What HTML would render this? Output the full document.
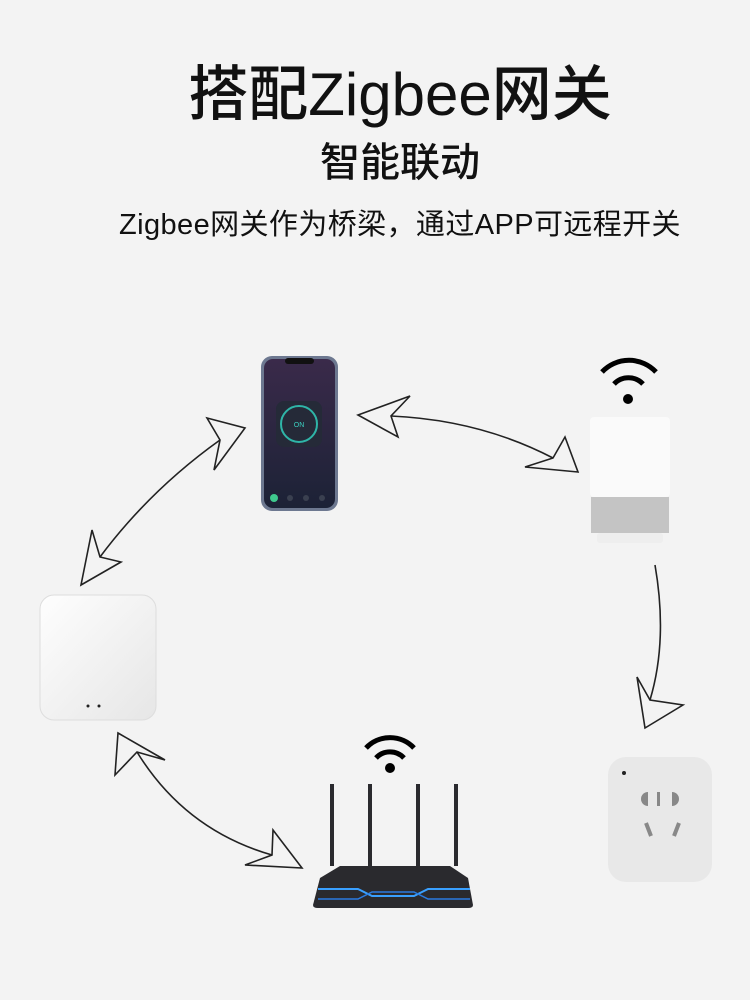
<!DOCTYPE html>
<html><head><meta charset="utf-8"><style>
body{margin:0;background:#f3f3f3;}
.wrap{position:relative;width:750px;height:1000px;overflow:hidden;background:#f3f3f3;font-family:"Liberation Sans","Noto Sans CJK SC",sans-serif;}
.t1{position:absolute;left:0;width:800px;top:46px;text-align:center;font-size:60px;font-weight:500;color:#111;letter-spacing:0px;}
.t2{position:absolute;left:0;width:800px;top:130px;text-align:center;font-size:40px;font-weight:500;color:#111;}
.t3{position:absolute;left:0;width:800px;top:201px;text-align:center;font-size:29px;color:#111;letter-spacing:0.4px;}
</style></head><body><div class="wrap">
<div class="t1">搭配Zigbee网关</div>
<div class="t2">智能联动</div>
<div class="t3">Zigbee网关作为桥梁，通过APP可远程开关</div>
<svg width="750" height="1000" style="position:absolute;left:0;top:0">
<defs>
<linearGradient id="scr" x1="0" y1="0" x2="0" y2="1"><stop offset="0" stop-color="#3a2a4a"/><stop offset="1" stop-color="#1c2236"/></linearGradient>
<linearGradient id="gw" x1="0" y1="0" x2="1" y2="1"><stop offset="0" stop-color="#fefefe"/><stop offset="1" stop-color="#e6e6e6"/></linearGradient>
</defs>
<g fill="none" stroke="#222" stroke-width="1.6" stroke-linejoin="miter">
<path d="M391 416 Q480 420 553 458"/>
<polygon points="358,415 410,396 391,416 398,437"/>
<polygon points="565,437 578,472 525,467 553,458"/>
<path d="M220 440 Q150 490 100 557"/>
<polygon points="207,418 245,428 214,470 220,440"/>
<polygon points="92,530 100,557 121,562 81,585"/>
<path d="M655 565 Q668 640 650 700"/>
<polygon points="637,677 650,700 683,705 645,728"/>
<path d="M137 752 Q185 830 272 855"/>
<polygon points="118,733 165,760 137,752 115,775"/>
<polygon points="273,830 302,868 245,865 272,855"/>
</g>
<!-- phone -->
<rect x="261" y="356" width="77" height="155" rx="11" fill="#6d7890"/>
<rect x="264" y="359" width="71" height="149" rx="9" fill="url(#scr)"/>
<rect x="285" y="358" width="29" height="6" rx="3" fill="#111"/>
<rect x="276" y="401" width="46" height="46" rx="8" fill="#252a38"/>
<circle cx="299" cy="424" r="18" fill="none" stroke="#2fb5a8" stroke-width="2"/>
<text x="299" y="427" font-size="7" fill="#3cd0c0" text-anchor="middle" font-family="Liberation Sans">ON</text>
<circle cx="274" cy="498" r="4" fill="#3fc98e"/>
<circle cx="290" cy="498" r="3" fill="#3a4050"/><circle cx="306" cy="498" r="3" fill="#3a4050"/><circle cx="322" cy="498" r="3" fill="#3a4050"/>
<!-- speaker -->
<path d="M602 372 a37 37 0 0 1 54 0" fill="none" stroke="#000" stroke-width="5"/>
<path d="M614 384 a20 20 0 0 1 29 0" fill="none" stroke="#000" stroke-width="5"/>
<circle cx="628" cy="399" r="5" fill="#000"/>
<rect x="590" y="417" width="80" height="80" rx="4" fill="#fafafa"/>
<rect x="591" y="497" width="78" height="36" fill="#c4c4c4"/>
<rect x="597" y="533" width="66" height="10" rx="3" fill="#eee"/>
<!-- gateway -->
<rect x="40" y="595" width="116" height="125" rx="14" fill="url(#gw)" stroke="#ddd"/>
<circle cx="88" cy="706" r="1.5" fill="#222"/><circle cx="99" cy="706" r="1.5" fill="#222"/>
<!-- router wifi -->
<path d="M366 748 a33 33 0 0 1 48 0" fill="none" stroke="#000" stroke-width="5"/>
<path d="M376 758 a19 19 0 0 1 28 0" fill="none" stroke="#000" stroke-width="5"/>
<circle cx="390" cy="768" r="5" fill="#000"/>
<g fill="#2a2a2e">
<rect x="330" y="784" width="4" height="82"/><rect x="368" y="784" width="4" height="82"/>
<rect x="416" y="784" width="4" height="82"/><rect x="454" y="784" width="4" height="82"/>
<path d="M320 878 L340 866 L450 866 L468 878 L473 905 Q473 908 468 908 L318 908 Q313 908 313 905 Z"/>
</g>
<path d="M318 889 L358 889 L372 896 L414 896 L428 889 L470 889" stroke="#3aa0ff" stroke-width="2" fill="none"/>
<path d="M318 899 L358 899 L372 892 L414 892 L428 899 L470 899" stroke="#2a7be0" stroke-width="1.5" fill="none"/>
<!-- socket -->
<rect x="608" y="757" width="104" height="125" rx="18" fill="#e8e8e8"/>
<circle cx="624" cy="773" r="2" fill="#222"/>
<path d="M648 792 a7 7 0 0 0 0 14 Z" fill="#888"/><path d="M672 792 a7 7 0 0 1 0 14 Z" fill="#888"/>
<rect x="657" y="792" width="3" height="14" fill="#888"/>
<path d="M646 823 l5 13" stroke="#888" stroke-width="4"/><path d="M679 823 l-5 13" stroke="#888" stroke-width="4"/>
</svg>
</div></body></html>
